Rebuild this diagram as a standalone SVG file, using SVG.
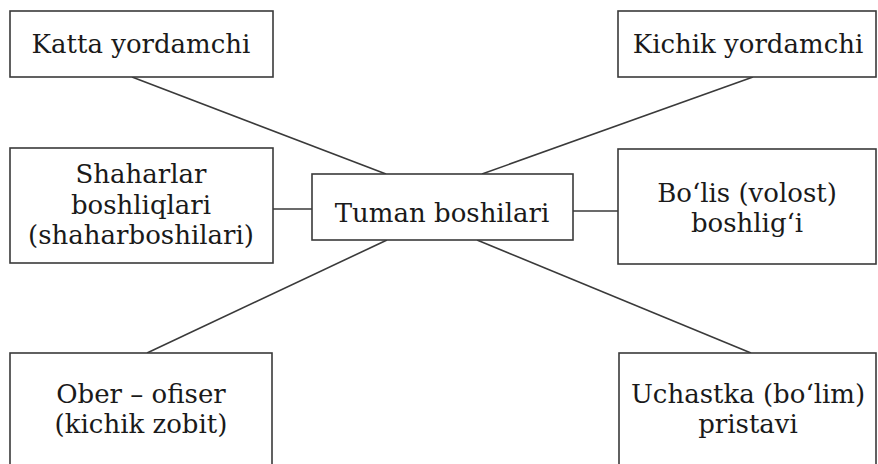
<svg xmlns="http://www.w3.org/2000/svg" width="878" height="464" viewBox="0 0 878 464">
<style>
.box{fill:#fff;stroke:#3a3a3a;stroke-width:1.6}
.t{font-family:"DejaVu Serif","Liberation Serif",serif;font-size:26px;fill:#1a1a1a;text-anchor:middle}
.c{stroke:#3a3a3a;stroke-width:1.6;fill:none}
</style>
<rect width="878" height="464" fill="#fff"/>
<g id="connectors">
<line class="c" x1="132" y1="77" x2="386" y2="174"/>
<line class="c" x1="753" y1="77" x2="482" y2="174"/>
<line class="c" x1="273" y1="209" x2="312" y2="209"/>
<line class="c" x1="573" y1="211" x2="618" y2="211"/>
<line class="c" x1="387" y1="240" x2="147" y2="353"/>
<line class="c" x1="477" y1="240" x2="751" y2="353"/>
</g>
<g id="katta"><rect class="box" x="10" y="11" width="263" height="66"/><text class="t" x="141" y="53">Katta yordamchi</text></g>
<g id="kichik"><rect class="box" x="618" y="11" width="258" height="66"/><text class="t" x="748" y="53">Kichik yordamchi</text></g>
<g id="shaharlar"><rect class="box" x="10" y="148" width="263" height="115"/><text class="t" x="141" y="183">Shaharlar</text><text class="t" x="141" y="214">boshliqlari</text><text class="t" x="141" y="244">(shaharboshilari)</text></g>
<g id="tuman"><rect class="box" x="312" y="174" width="261" height="66"/><text class="t" x="442" y="222">Tuman boshilari</text></g>
<g id="bolis"><rect class="box" x="618" y="149" width="258" height="115"/><text class="t" x="747" y="202">Bo‘lis (volost)</text><text class="t" x="747" y="232">boshlig‘i</text></g>
<g id="ober"><rect class="box" x="10" y="353" width="262" height="120"/><text class="t" x="141" y="403">Ober – ofiser</text><text class="t" x="141" y="433">(kichik zobit)</text></g>
<g id="uchastka"><rect class="box" x="619" y="353" width="257" height="120"/><text class="t" x="748" y="403">Uchastka (bo‘lim)</text><text class="t" x="748" y="433">pristavi</text></g>
</svg>
